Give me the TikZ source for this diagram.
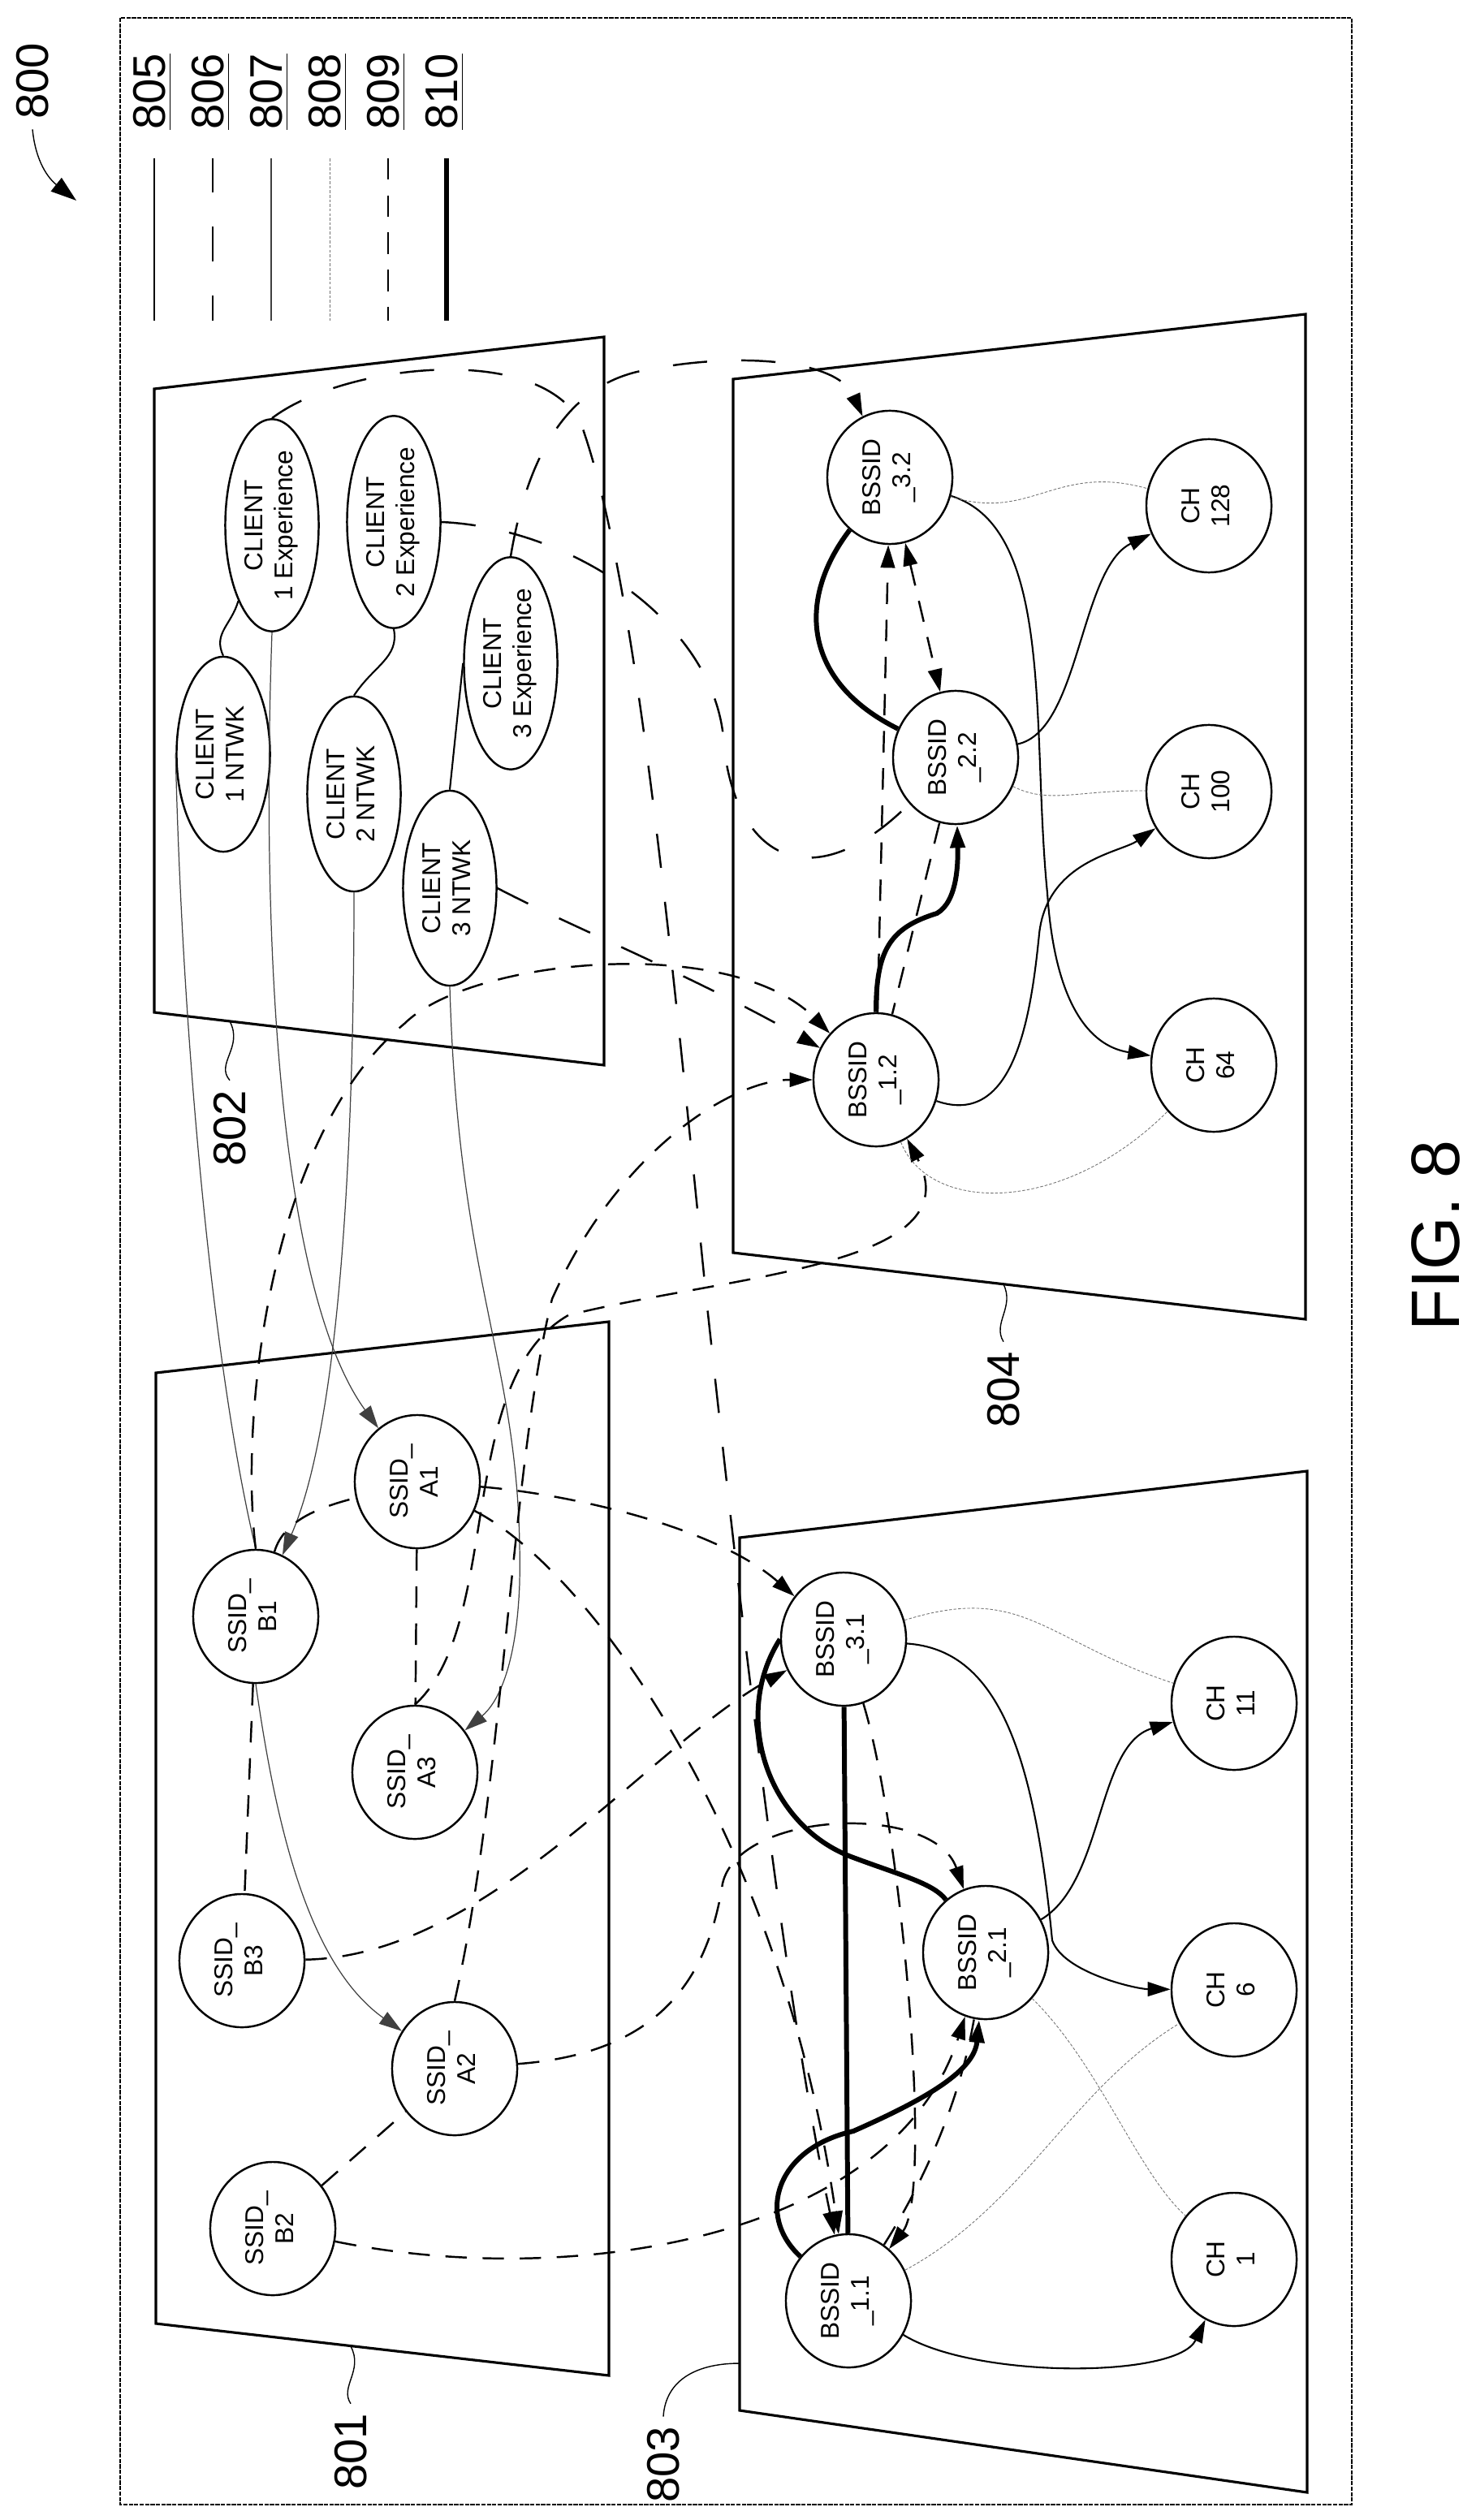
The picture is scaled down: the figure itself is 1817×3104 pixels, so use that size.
\documentclass[tikz,border=0pt]{standalone}
\usepackage{fontspec}
\setmainfont{Liberation Sans}
\usetikzlibrary{arrows.meta,shapes.geometric}
\newcommand{\rtext}[1]{\rotatebox{90}{\begin{tabular}{@{}c@{}}#1\end{tabular}}}
\begin{document}
\begin{tikzpicture}[x=0.01cm,y=-0.01cm,
  cn/.style={ellipse,draw,line width=0.7pt,minimum width=1.54cm,minimum height=1.64cm,inner sep=0pt,font=\fontsize{9}{10.5}\selectfont,fill=white},
  en/.style={ellipse,draw,line width=0.7pt,minimum width=1.15cm,minimum height=2.4cm,inner sep=0pt,font=\fontsize{9}{10.5}\selectfont,fill=white},
  plane/.style={draw,line width=0.9pt},
  lab/.style={font=\fontsize{16}{16}\selectfont,rotate=90},
  tip/.style={-{Triangle[length=8pt,width=5pt]}},
  s805/.style={line width=0.6pt},
  s806/.style={line width=0.7pt,dash pattern=on 12pt off 12pt},
  s807/.style={line width=0.35pt,draw=black!75},
  s808/.style={line width=0.25pt,draw=black!55,dash pattern=on 1pt off 0.6pt},
  s809/.style={line width=0.7pt,dash pattern=on 7.5pt off 5.5pt},
  s810/.style={line width=1.7pt},
  lead/.style={line width=0.4pt}]
\useasboundingbox (0,0) rectangle (1817,3104);
% frame
\draw[line width=0.8pt,dash pattern=on 1.5pt off 0.4pt] (148,22) rectangle (1665,3085);
% legend
\foreach \n/\x/\s in {805/188/s805,806/260/s806,807/332/s807,808/404/s808,809/476/s809,810/548/s810}{
  \node[lab] (L\n) at (\x,113) {\underline{\n}};
  \draw[\s] (\x+2,195) -- (\x+2,395);
}
\node[lab] (n800) at (40,100) {800};
\coordinate (a800) at (94,247);
\draw[lead,-{Triangle[length=9pt,width=6pt]}] (n800.west) .. controls (44,200) and (60,220) .. (a800);
% planes
\draw[plane] (190,479) -- (744,415) -- (744,1312) -- (190,1247) -- cycle;
\draw[plane] (903,467) -- (1608,387) -- (1608,1625) -- (903,1543) -- cycle;
\draw[plane] (192,1691) -- (750,1628) -- (750,2926) -- (192,2862) -- cycle;
\draw[plane] (911,1894) -- (1610,1812) -- (1610,3070) -- (911,2969) -- cycle;
% plane labels
\node[lab] (l802) at (283,1390) {802};
\node[lab] (l804) at (1236,1712) {804};
\node[lab] (l801) at (432,3020) {801};
\node[lab] (l803) at (817,3036) {803};
\coordinate (p802) at (283,1258);
\coordinate (p804) at (1236,1582);
\coordinate (p801) at (432,2890);
\coordinate (p803) at (911,2911);
\draw[lead] (p802) .. controls (300,1290) and (265,1310) .. (l802.east);
\draw[lead] (p804) .. controls (1250,1610) and (1222,1630) .. (l804.east);
\draw[lead] (p801) .. controls (448,2920) and (418,2940) .. (l801.east);
\draw[lead] (p803) .. controls (860,2911) and (820,2930) .. (l803.east);
\node[font=\fontsize{24}{24}\selectfont,rotate=90] (fig) at (1768,1522) {FIG. 8};
% client nodes
\node[en] (c1e) at (335,647) {\rtext{CLIENT\\1 Experience}};
\node[en] (c2e) at (485,643) {\rtext{CLIENT\\2 Experience}};
\node[en] (c3e) at (629,817) {\rtext{CLIENT\\3 Experience}};
\node[en] (c1n) at (275,929) {\rtext{CLIENT\\1 NTWK}};
\node[en] (c2n) at (436,978) {\rtext{CLIENT\\2 NTWK}};
\node[en] (c3n) at (554,1094) {\rtext{CLIENT\\3 NTWK}};
% SSIDs
\node[cn] (a1) at (514,1825) {\rtext{SSID\_\\A1}};
\node[cn] (b1) at (315,1991) {\rtext{SSID\_\\B1}};
\node[cn] (a3) at (511,2183) {\rtext{SSID\_\\A3}};
\node[cn] (b3) at (298,2415) {\rtext{SSID\_\\B3}};
\node[cn] (a2) at (560,2548) {\rtext{SSID\_\\A2}};
\node[cn] (b2) at (336,2745) {\rtext{SSID\_\\B2}};
% BSSIDs and channels
\node[cn] (b32) at (1096,588) {\rtext{BSSID\\\_3.2}};
\node[cn] (b22) at (1177,933) {\rtext{BSSID\\\_2.2}};
\node[cn] (b12) at (1079,1330) {\rtext{BSSID\\\_1.2}};
\node[cn] (ch128) at (1489,623) {\rtext{CH\\128}};
\node[cn] (ch100) at (1489,975) {\rtext{CH\\100}};
\node[cn] (ch64) at (1495,1312) {\rtext{CH\\64}};
\node[cn] (b31) at (1039,2019) {\rtext{BSSID\\\_3.1}};
\node[cn] (b21) at (1214,2405) {\rtext{BSSID\\\_2.1}};
\node[cn] (b11) at (1045,2834) {\rtext{BSSID\\\_1.1}};
\node[cn] (ch11) at (1520,2098) {\rtext{CH\\11}};
\node[cn] (ch6) at (1520,2451) {\rtext{CH\\6}};
\node[cn] (ch1) at (1520,2783) {\rtext{CH\\1}};
% client internal (805)
\draw[s805] (c1n.north) .. controls (262,780) and (285,770) .. (c1e.south west);
\draw[s805] (c2n.north) .. controls (460,820) and (492,810) .. (c2e.south);
\draw[s805] (c3n.north) -- (c3e.west);
% 807 thin
\draw[s807] (c1n.west) .. controls (225,1300) and (265,1700) .. (b1.north);
\draw[s807,tip] (c2n.south) .. controls (436,1400) and (420,1750) .. (b1);
\draw[s807,tip] (c1e.south) .. controls (320,1200) and (350,1600) .. (a1);
\draw[s807,tip] (c3n.south) .. controls (565,1600) and (645,1680) .. (640,1950) .. controls (636,2060) and (610,2100) .. (a3);
\draw[s807,tip] (b1.south) .. controls (340,2250) and (380,2420) .. (a2);
% 806 long dash
\draw[s806,tip] (c1e.north) .. controls (420,450) and (660,420) .. (715,520) .. controls (780,700) and (820,1100) .. (870,1600) .. controls (930,2150) and (975,2500) .. (b11);
\draw[s806,tip] (c3e.north) .. controls (650,560) and (700,470) .. (800,455) .. controls (900,435) and (1030,440) .. (b32);
\draw[s806] (c2e.east) .. controls (700,650) and (870,760) .. (890,900) .. controls (900,1060) and (1000,1110) .. (b22);
\draw[s806,tip] (c3n.east) .. controls (700,1140) and (850,1200) .. (b12);
% 809 dashed
\draw[s809] (b1) -- (b3);
\draw[s809,tip] (b1.north) .. controls (295,1750) and (330,1400) .. (498,1261) .. controls (580,1180) and (900,1150) .. (b12);
\draw[s809] (b1) .. controls (350,1870) and (400,1855) .. (a1);
\draw[s809,tip] (a1) .. controls (700,1840) and (880,1880) .. (b31);
\draw[s809,tip] (a1) .. controls (720,1930) and (960,2250) .. (b11);
\draw[s809] (a1) -- (a3);
\draw[s809,tip] (a3.north) .. controls (620,2000) and (560,1700) .. (700,1620) .. controls (900,1570) and (1200,1560) .. (b12);
\draw[s809,tip] (a2.north) .. controls (620,2200) and (630,1800) .. (680,1600) .. controls (760,1420) and (900,1330) .. (b12);
\draw[s809,tip] (b3) .. controls (600,2410) and (800,2150) .. (b31);
\draw[s809,tip] (a2) .. controls (800,2530) and (870,2450) .. (890,2320) .. controls (910,2230) and (1150,2220) .. (b21);
\draw[s809] (b2) -- (a2);
\draw[s809,tip] (b2) .. controls (700,2820) and (1100,2760) .. (b21);
\draw[s809,tip] (b31) .. controls (1110,2250) and (1150,2700) .. (b11);
\draw[s809] (b11) .. controls (1130,2700) and (1180,2600) .. (b21);
\draw[s809,{Triangle[length=8pt,width=5pt]}-{Triangle[length=8pt,width=5pt]}] (b32) -- (b22);
\draw[s809,tip] (b12) -- (b32);
\draw[s809] (b22) -- (b12);
% 805 solid to channels
\draw[s805,tip] (b22) .. controls (1330,900) and (1330,700) .. (ch128);
\draw[s805,tip] (b32) .. controls (1300,650) and (1270,900) .. (1290,1100) .. controls (1300,1250) and (1350,1290) .. (ch64);
\draw[s805,tip] (b12) .. controls (1250,1390) and (1270,1250) .. (1280,1150) .. controls (1290,1060) and (1380,1050) .. (ch100);
\draw[s805,tip] (b31) .. controls (1226,2032) and (1273,2150) .. (1296,2390) .. controls (1310,2430) and (1400,2450) .. (ch6);
\draw[s805,tip] (b21) .. controls (1360,2318) and (1350,2150) .. (ch11);
\draw[s805,tip] (b11) .. controls (1200,2930) and (1450,2930) .. (ch1);
% 808 dotted grey
\draw[s808] (b32) .. controls (1270,643) and (1300,570) .. (ch128);
\draw[s808] (b22) .. controls (1292,991) and (1327,973) .. (ch100);
\draw[s808] (b12) .. controls (1145,1496) and (1311,1496) .. (ch64);
\draw[s808] (b31) .. controls (1261,1950) and (1284,2020) .. (ch11);
\draw[s808] (b21) .. controls (1354,2543) and (1401,2676) .. (ch1);
\draw[s808] (b11) .. controls (1261,2717) and (1319,2574) .. (ch6);
% 810 thick
\draw[s810] (b31) -- (b11);
\draw[s810] (b31.west) .. controls (900,2114) and (946,2250) .. (1051,2288) .. controls (1110,2310) and (1150,2320) .. (b21);
\draw[s810,tip] (b11) .. controls (930,2728) and (957,2646) .. (1051,2625) .. controls (1144,2584) and (1200,2550) .. (b21);
\draw[s810] (b22) .. controls (990,840) and (980,740) .. (b32);
\draw[s810,tip] (b12) .. controls (1079,1170) and (1096,1143) .. (1154,1125) .. controls (1180,1110) and (1180,1060) .. (b22);
\end{tikzpicture}
\end{document}
